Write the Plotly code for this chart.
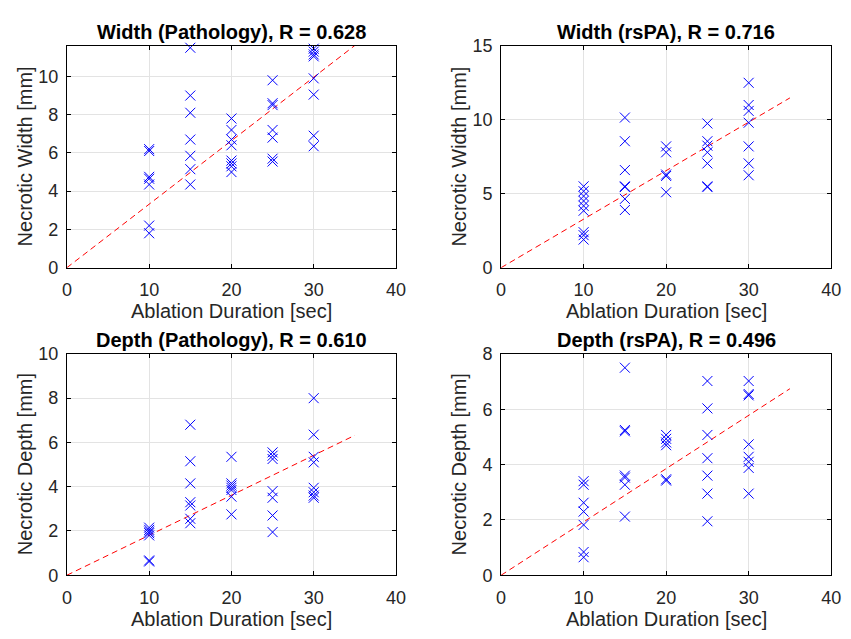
import plotly.graph_objects as go

# ---- data ----
durations = [10, 15, 20, 25, 30]

width_path = {
    10: [6.2, 6.1, 4.75, 4.65, 4.35, 2.2, 1.8],
    15: [11.5, 9.0, 8.1, 6.7, 5.85, 5.15, 4.35],
    20: [7.8, 7.2, 6.7, 6.4, 5.6, 5.45, 5.3, 5.0],
    25: [9.8, 8.6, 8.5, 7.2, 6.8, 5.7, 5.55],
    30: [11.45, 11.3, 11.15, 11.05, 9.9, 9.05, 6.9, 6.35],
}
width_rspa = {
    10: [5.5, 5.17, 4.84, 4.51, 4.18, 3.85, 2.4, 2.2, 1.9],
    15: [10.15, 8.55, 6.6, 5.5, 5.45, 4.65, 3.9],
    20: [8.2, 7.8, 6.3, 6.2, 5.1],
    25: [9.75, 8.55, 8.25, 7.8, 7.05, 5.5, 5.45],
    30: [12.5, 11.0, 10.6, 9.8, 8.2, 7.05, 6.25],
}
depth_path = {
    10: [2.15, 2.05, 1.97, 1.9, 1.8, 0.67, 0.62],
    15: [6.8, 5.15, 4.15, 3.3, 3.15, 2.55, 2.35],
    20: [5.35, 4.15, 4.05, 3.95, 3.85, 3.55, 2.75],
    25: [5.55, 5.4, 5.25, 3.8, 3.5, 2.7, 1.95],
    30: [8.0, 6.35, 5.35, 5.1, 3.95, 3.75, 3.6, 3.5],
}
depth_rspa = {
    10: [3.4, 3.27, 2.62, 2.3, 1.82, 0.84, 0.65],
    15: [7.5, 5.25, 5.2, 3.6, 3.53, 3.27, 2.12],
    20: [5.07, 4.93, 4.8, 4.7, 3.47, 3.42],
    25: [7.02, 6.03, 5.07, 4.23, 3.6, 2.95, 1.95],
    30: [7.02, 6.55, 6.5, 4.73, 4.28, 4.1, 3.88, 2.95],
}

titles = ["Width (Pathology), R = 0.628", "Width (rsPA), R = 0.716",
          "Depth (Pathology), R = 0.610", "Depth (rsPA), R = 0.496"]
ylabels = ["Necrotic Width [mm]", "Necrotic Width [mm]",
           "Necrotic Depth [mm]", "Necrotic Depth [mm]"]
xlabel = "Ablation Duration [sec]"
slopes = [0.332, 0.328, 0.1806, 0.1926]
fit_x = [0, 35]
yranges = [[0, 11.6], [0, 15], [0, 10], [0, 8]]
ydticks = [2, 5, 2, 2]
xticks = [0, 10, 20, 30, 40]

datasets = [width_path, width_rspa, depth_path, depth_rspa]

# ---- layout geometry (pixels) ----
W, H = 851, 639
boxes = [  # x0, x1, y0(top), y1(bottom)
    (63, 398, 37, 266),
    (505, 841, 37, 266),
    (63, 398, 355, 583.5),
    (505, 841, 355, 583.5),
]

def px(xr):
    return xr / W

def py(yr):
    return 1 - yr / H

FONT = "Liberation Sans, Arial, sans-serif"
fig = go.Figure()
annotations = []
layout = {}

for i, (data, box) in enumerate(zip(datasets, boxes)):
    n = i + 1
    xa = "x" if n == 1 else f"x{n}"
    ya = "y" if n == 1 else f"y{n}"
    xs, ys = [], []
    for d in durations:
        for v in data[d]:
            xs.append(d)
            ys.append(v)
    fy = [slopes[i] * x for x in fit_x]
    fig.add_trace(go.Scatter(x=fit_x, y=fy, mode="lines", xaxis=xa, yaxis=ya,
                             line=dict(color="#ff0000", width=1, dash="6px,4px"),
                             showlegend=False, hoverinfo="skip"))
    fig.add_trace(go.Scatter(x=xs, y=ys, mode="markers", xaxis=xa, yaxis=ya,
                             marker=dict(symbol="x-thin-open", size=10, color="#0000ff",
                                         line=dict(color="#0000ff", width=1)),
                             cliponaxis=False, showlegend=False))
    x0, x1, t, b = box
    axis_common = dict(showline=True, linecolor="black", linewidth=1, mirror="ticks",
                       ticks="inside", ticklen=4, tickcolor="black",
                       showgrid=True, gridcolor="#e3e3e3", gridwidth=1, zeroline=False,
                       tickfont=dict(family=FONT, size=18, color="#262626"))
    layout["xaxis" if n == 1 else f"xaxis{n}"] = dict(
        domain=[px(x0), px(x1)], range=[0, 40], tickvals=xticks,
        anchor=ya, ticklabelstandoff=6, **axis_common)
    layout["yaxis" if n == 1 else f"yaxis{n}"] = dict(
        domain=[py(b), py(t)], range=yranges[i], dtick=ydticks[i],
        tick0=0, anchor=xa, ticklabelstandoff=4, **axis_common)
    cx = (x0 + x1) / 2
    annotations.append(dict(text="<b>" + titles[i] + "</b>", x=px(cx), y=py(t - 14),
                            xref="paper", yref="paper", showarrow=False,
                            xanchor="center", yanchor="middle",
                            font=dict(family=FONT, size=20, color="black")))
    annotations.append(dict(text=xlabel, x=px(cx), y=py(b + 45),
                            xref="paper", yref="paper", showarrow=False,
                            xanchor="center", yanchor="middle",
                            font=dict(family=FONT, size=20, color="#262626")))
    annotations.append(dict(text=ylabels[i], x=px(x0 - 43), y=py((t + b) / 2),
                            xref="paper", yref="paper", showarrow=False, textangle=-90,
                            xanchor="center", yanchor="middle",
                            font=dict(family=FONT, size=20, color="#262626")))

fig.update_layout(width=W, height=H, margin=dict(l=0, r=0, t=0, b=0),
                  paper_bgcolor="white", plot_bgcolor="white",
                  annotations=annotations, **layout)
fig.write_html(
    "out.html",
    config={"displayModeBar": False},
    post_script=("document.body.style.margin='0';"
                 "document.body.style.overflow='hidden';"
                 "document.documentElement.style.overflow='hidden';"),
)
